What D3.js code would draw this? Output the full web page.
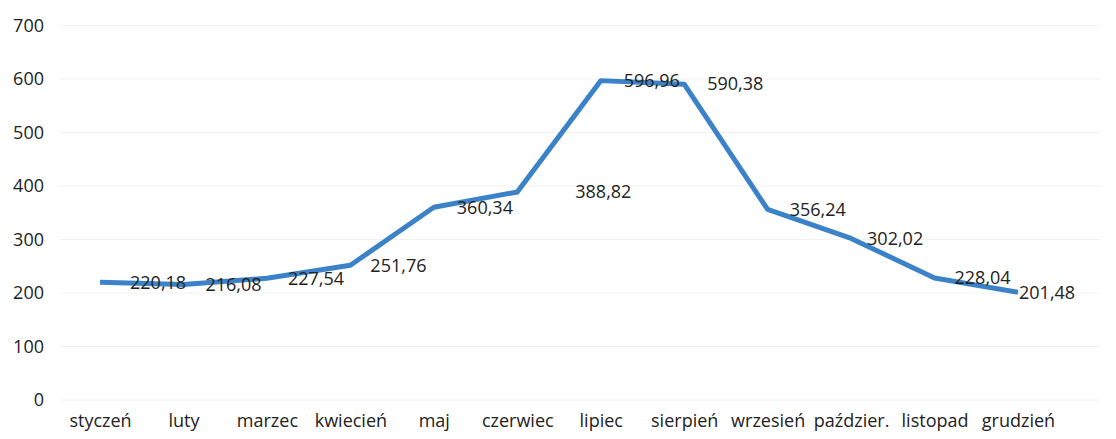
<!DOCTYPE html>
<html>
<head>
<meta charset="utf-8">
<script src="https://cdn.jsdelivr.net/npm/d3@7/dist/d3.min.js"></script>
<style>
  html, body { margin: 0; padding: 0; background: #fff; }
  svg text { font-family: "Open Sans", sans-serif; }
</style>
</head>
<body>
<div id="chart"></div>
<script>
// Monthly values
const months = ['styczeń', 'luty', 'marzec', 'kwiecień', 'maj', 'czerwiec',
                'lipiec', 'sierpień', 'wrzesień', 'paździer.', 'listopad', 'grudzień'];
const values = [220.18, 216.08, 227.54, 251.76, 360.34, 388.82,
                596.96, 590.38, 356.24, 302.02, 228.04, 201.48];
const yTicks = [0, 100, 200, 300, 400, 500, 600, 700];

// label nudges (px, relative to the point), mimicking the hand-placed Excel labels
const labelDx = [30, 22, 21, 20, 23, 58, 23, 23, 22, 16, 20, 1];

const W = 1116, H = 439;
const svg = d3.select('#chart').append('svg')
  .attr('width', W).attr('height', H);

const x = d3.scalePoint().domain(months).range([100, 1018]);
const y = d3.scaleLinear().domain([0, 700]).range([400, 25.5]);

// faint gridlines
svg.append('g')
  .selectAll('line')
  .data(yTicks)
  .join('line')
    .attr('x1', 60).attr('x2', 1100)
    .attr('y1', d => y(d)).attr('y2', d => y(d))
    .attr('stroke', '#f2f2f2')
    .attr('stroke-width', 1);

// y axis
svg.append('g')
  .attr('transform', 'translate(44,0)')
  .call(d3.axisLeft(y).tickValues(yTicks).tickSize(0).tickPadding(0))
  .call(ax => ax.select('.domain').remove())
  .call(ax => ax.selectAll('text')
    .attr('fill', '#222')
    .style('font-size', '18px'));

// x axis
svg.append('g')
  .attr('transform', 'translate(0,414)')
  .call(d3.axisBottom(x).tickSize(0).tickPadding(0))
  .call(ax => ax.select('.domain').remove())
  .call(ax => ax.selectAll('text')
    .attr('fill', '#222')
    .style('font-size', '18px'));

// line
const line = d3.line()
  .x((d, i) => x(months[i]))
  .y(d => y(d));

svg.append('path')
  .datum(values)
  .attr('d', line)
  .attr('fill', 'none')
  .attr('stroke', '#3b82c8')
  .attr('stroke-width', 5)
  .attr('stroke-linejoin', 'round');

// data labels
svg.append('g')
  .selectAll('text')
  .data(values)
  .join('text')
    .attr('x', (d, i) => x(months[i]) + labelDx[i])
    .attr('y', d => y(d))
    .attr('dy', '0.35em')
    .attr('fill', '#222')
    .style('font-size', '18px')
    .text(d => d.toFixed(2).replace('.', ','));
</script>
</body>
</html>
